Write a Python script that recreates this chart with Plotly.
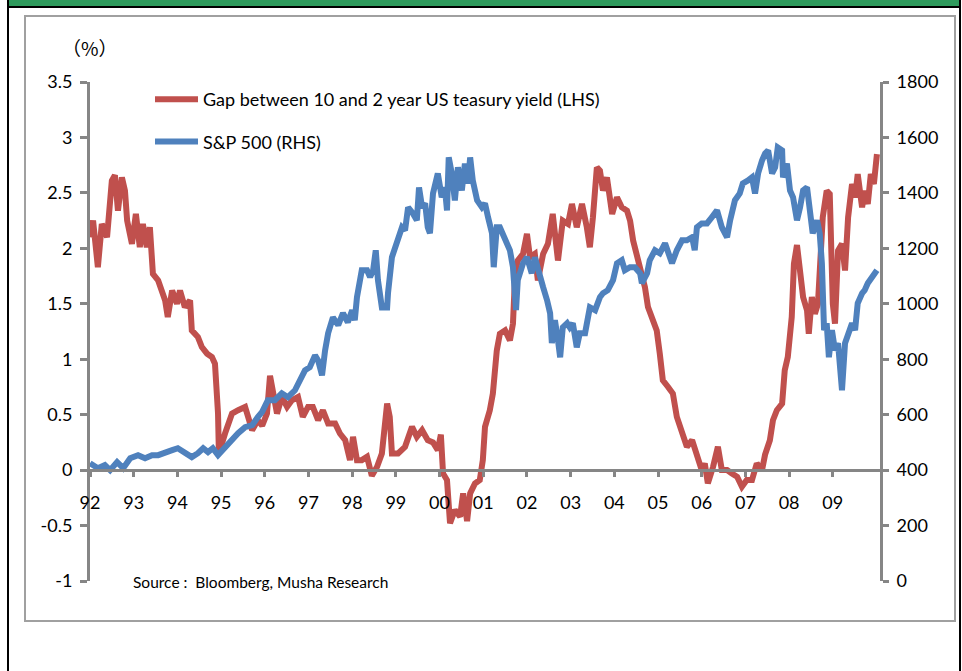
import plotly.graph_objects as go

# ---- data ----
gap_x = [1992.00, 1992.07, 1992.18, 1992.27, 1992.39, 1992.50, 1992.57, 1992.64, 1992.73, 1992.80,
         1992.85, 1992.96, 1993.05, 1993.14, 1993.21, 1993.30, 1993.37, 1993.44, 1993.56, 1993.72,
         1993.78, 1993.88, 1993.99, 1994.06, 1994.17, 1994.29, 1994.33, 1994.47, 1994.56, 1994.68,
         1994.79, 1994.86, 1994.93, 1994.95, 1995.09, 1995.25, 1995.39, 1995.55, 1995.71, 1995.84,
         1995.94, 1996.05, 1996.12, 1996.19, 1996.28, 1996.39, 1996.51, 1996.62, 1996.76, 1996.87,
         1996.99, 1997.10, 1997.22, 1997.33, 1997.45, 1997.61, 1997.72, 1997.84, 1997.95, 1998.02,
         1998.11, 1998.22, 1998.34, 1998.45, 1998.57, 1998.68, 1998.80, 1998.86, 1998.91, 1999.05,
         1999.21, 1999.37, 1999.48, 1999.60, 1999.73, 1999.85, 1999.96, 2000.03, 2000.08, 2000.17,
         2000.24, 2000.35, 2000.47, 2000.54, 2000.63, 2000.70, 2000.81, 2000.92, 2000.99, 2001.04,
         2001.15, 2001.22, 2001.31, 2001.38, 2001.50, 2001.61, 2001.68, 2001.73, 2001.79, 2001.91,
         2002.00, 2002.07, 2002.18, 2002.25, 2002.37, 2002.48, 2002.59, 2002.71, 2002.82, 2002.94,
         2003.03, 2003.14, 2003.26, 2003.37, 2003.44, 2003.51, 2003.60, 2003.67, 2003.74, 2003.83,
         2003.95, 2004.06, 2004.17, 2004.29, 2004.36, 2004.43, 2004.52, 2004.63, 2004.70, 2004.77,
         2004.86, 2004.97, 2005.04, 2005.11, 2005.23, 2005.34, 2005.43, 2005.55, 2005.66, 2005.78,
         2005.89, 2006.00, 2006.07, 2006.14, 2006.26, 2006.37, 2006.46, 2006.58, 2006.69, 2006.81,
         2006.92, 2007.03, 2007.15, 2007.26, 2007.38, 2007.45, 2007.56, 2007.63, 2007.72, 2007.84,
         2007.90, 2007.97, 2008.06, 2008.11, 2008.18, 2008.25, 2008.32, 2008.41, 2008.45, 2008.52,
         2008.59, 2008.66, 2008.77, 2008.86, 2008.93, 2009.00, 2009.05, 2009.12, 2009.21, 2009.28,
         2009.35, 2009.44, 2009.51, 2009.57, 2009.67, 2009.73, 2009.80, 2009.87, 2009.94, 2010.01]
gap_y = [2.10, 2.25, 1.83, 2.22, 2.10, 2.61, 2.66, 2.34, 2.64, 2.52,
         2.25, 2.04, 2.31, 2.01, 2.22, 2.01, 2.19, 1.77, 1.71, 1.53,
         1.38, 1.62, 1.50, 1.62, 1.47, 1.53, 1.26, 1.20, 1.11, 1.05,
         1.02, 0.96, 0.51, 0.15, 0.33, 0.51, 0.54, 0.57, 0.36, 0.45,
         0.40, 0.51, 0.85, 0.69, 0.51, 0.66, 0.57, 0.63, 0.66, 0.48,
         0.57, 0.57, 0.45, 0.54, 0.42, 0.42, 0.33, 0.27, 0.09, 0.30,
         0.09, 0.09, 0.12, -0.05, 0.03, 0.15, 0.60, 0.48, 0.15, 0.15,
         0.21, 0.39, 0.30, 0.36, 0.27, 0.25, 0.18, 0.32, -0.03, -0.09,
         -0.48, -0.36, -0.42, -0.21, -0.46, -0.21, -0.12, -0.09, 0.09, 0.39,
         0.54, 0.69, 1.08, 1.23, 1.26, 1.17, 1.32, 1.77, 1.89, 1.95,
         2.13, 1.92, 1.95, 1.71, 1.95, 2.04, 2.31, 1.89, 2.25, 2.22,
         2.40, 2.19, 2.40, 2.19, 2.01, 2.28, 2.73, 2.70, 2.52, 2.64,
         2.31, 2.46, 2.37, 2.34, 2.25, 2.07, 1.92, 1.77, 1.65, 1.47,
         1.38, 1.26, 1.05, 0.81, 0.75, 0.69, 0.48, 0.33, 0.21, 0.27,
         0.15, 0.00, 0.06, -0.12, 0.03, 0.21, 0.00, 0.00, -0.03, -0.06,
         -0.15, -0.09, -0.09, 0.06, 0.00, 0.14, 0.27, 0.45, 0.54, 0.60,
         0.90, 1.02, 1.38, 1.86, 2.03, 1.80, 1.56, 1.44, 1.23, 1.56,
         1.41, 1.50, 2.28, 2.52, 2.49, 1.50, 1.32, 1.98, 2.04, 1.80,
         2.28, 2.58, 2.46, 2.67, 2.37, 2.52, 2.40, 2.67, 2.58, 2.85]

spx_x = [1992.00, 1992.18, 1992.34, 1992.46, 1992.62, 1992.76, 1992.92, 1993.10, 1993.26, 1993.42,
         1993.56, 1993.72, 1993.88, 1994.01, 1994.17, 1994.33, 1994.47, 1994.59, 1994.70, 1994.81,
         1994.93, 1995.09, 1995.25, 1995.39, 1995.55, 1995.71, 1995.84, 1995.94, 1996.07, 1996.23,
         1996.39, 1996.53, 1996.69, 1996.81, 1996.92, 1997.03, 1997.15, 1997.22, 1997.31, 1997.38,
         1997.45, 1997.56, 1997.68, 1997.79, 1997.90, 1998.00, 1998.06, 1998.11, 1998.22, 1998.34,
         1998.41, 1998.48, 1998.54, 1998.59, 1998.68, 1998.80, 1998.82, 1998.91, 1998.98, 1999.05,
         1999.14, 1999.21, 1999.28, 1999.39, 1999.48, 1999.53, 1999.60, 1999.67, 1999.73, 1999.78,
         1999.85, 1999.96, 2000.05, 2000.12, 2000.17, 2000.21, 2000.28, 2000.35, 2000.42, 2000.51,
         2000.58, 2000.65, 2000.70, 2000.76, 2000.86, 2000.97, 2001.04, 2001.11, 2001.20, 2001.24,
         2001.31, 2001.38, 2001.45, 2001.54, 2001.61, 2001.68, 2001.75, 2001.79, 2001.91, 2002.00,
         2002.11, 2002.18, 2002.30, 2002.37, 2002.46, 2002.53, 2002.57, 2002.64, 2002.71, 2002.76,
         2002.82, 2002.92, 2002.98, 2003.05, 2003.14, 2003.21, 2003.33, 2003.44, 2003.56, 2003.67,
         2003.74, 2003.85, 2003.97, 2004.06, 2004.17, 2004.24, 2004.36, 2004.47, 2004.59, 2004.63,
         2004.75, 2004.81, 2004.93, 2005.04, 2005.16, 2005.23, 2005.32, 2005.43, 2005.55, 2005.66,
         2005.78, 2005.84, 2005.89, 2006.00, 2006.12, 2006.23, 2006.35, 2006.46, 2006.58, 2006.65,
         2006.76, 2006.87, 2006.94, 2007.06, 2007.15, 2007.22, 2007.29, 2007.38, 2007.45, 2007.52,
         2007.61, 2007.68, 2007.74, 2007.84, 2007.86, 2007.95, 2008.02, 2008.09, 2008.18, 2008.25,
         2008.32, 2008.41, 2008.48, 2008.54, 2008.64, 2008.70, 2008.75, 2008.80, 2008.86, 2008.91,
         2008.98, 2009.05, 2009.12, 2009.21, 2009.28, 2009.35, 2009.44, 2009.51, 2009.57, 2009.67,
         2009.73, 2009.80, 2009.90, 2010.01]
spx_y = [425, 407, 418, 400, 429, 407, 443, 454, 443, 454,
         454, 465, 472, 479, 461, 447, 461, 479, 465, 479,
         454, 483, 508, 533, 555, 562, 591, 610, 652, 652,
         677, 663, 688, 724, 760, 771, 814, 796, 742, 832,
         894, 951, 923, 966, 933, 977, 941, 1024, 1121, 1121,
         1096, 1121, 1193, 1085, 987, 987, 1038, 1168, 1204, 1240,
         1276, 1265, 1348, 1326, 1301, 1420, 1348, 1362, 1276, 1254,
         1398, 1470, 1384, 1420, 1337, 1528, 1470, 1373, 1492, 1409,
         1506, 1434, 1528, 1445, 1373, 1348, 1362, 1312, 1254, 1132,
         1276, 1276, 1254, 1218, 1193, 1132, 977, 1085, 1146, 1168,
         1110, 1168, 1110, 1060, 1013, 966, 858, 941, 869, 807,
         915, 930, 915, 930, 843, 894, 894, 987, 977, 1024,
         1038, 1049, 1085, 1146, 1157, 1121, 1132, 1132, 1110, 1074,
         1110, 1157, 1193, 1182, 1218, 1182, 1146, 1193, 1229, 1229,
         1240, 1193, 1276, 1290, 1290, 1312, 1337, 1276, 1240, 1301,
         1373, 1398, 1434, 1445, 1456, 1398, 1470, 1517, 1542, 1553,
         1470, 1492, 1564, 1553, 1456, 1506, 1409, 1384, 1301, 1348,
         1409, 1420, 1312, 1254, 1301, 1254, 1146, 905, 930, 807,
         905, 832, 858, 688, 858, 894, 930, 905, 1002, 1038,
         1049, 1074, 1096, 1121]

year_ticks = list(range(1992, 2010))
year_labels = ["92", "93", "94", "95", "96", "97", "98", "99", "00",
               "01", "02", "03", "04", "05", "06", "07", "08", "09"]
left_ticks = [-1, -0.5, 0, 0.5, 1, 1.5, 2, 2.5, 3, 3.5]
left_labels = ["-1", "-0.5", "0", "0.5", "1", "1.5", "2", "2.5", "3", "3.5"]
right_ticks = [0, 200, 400, 600, 800, 1000, 1200, 1400, 1600, 1800]
right_labels = ["0", "200", "400", "600", "800", "1000", "1200", "1400", "1600", "1800"]

RED = "#C0504D"
BLUE = "#4F81BD"
AX = "#868686"
FONT = "Lato"

fig = go.Figure()
fig.add_trace(go.Scatter(x=gap_x, y=gap_y, mode="lines", yaxis="y",
                         name="Gap between 10 and 2 year US teasury yield (LHS)",
                         legendgroup="a",
                         line=dict(color=RED, width=6)))
fig.add_trace(go.Scatter(x=spx_x, y=spx_y, mode="lines", yaxis="y2",
                         name="S&P 500 (RHS)", legendgroup="b",
                         line=dict(color=BLUE, width=6)))

L, R, T, B = 90, 82, 82, 90
W, H = 962, 671
pw, ph = W - L - R, H - T - B
def px(x):
    return (x - L) / pw
def py(y):
    return (H - B - y) / ph

zero_pos = (0 - (-1)) / (3.5 - (-1))

fig.update_layout(
    width=W, height=H,
    margin=dict(l=L, r=R, t=T, b=B, autoexpand=False),
    paper_bgcolor="white", plot_bgcolor="white",
    font=dict(family=FONT, size=18, color="black"),
    xaxis=dict(range=[1992, 2010.08], anchor="free", position=zero_pos,
               tickvals=year_ticks, ticktext=year_labels,
               showline=True, linecolor=AX, linewidth=3,
               ticks="outside", ticklen=5, tickwidth=3, tickcolor=AX,
               showgrid=False, zeroline=False, ticklabelstandoff=10,
               tickfont=dict(family=FONT, size=18, color="black")),
    yaxis=dict(range=[-1, 3.5], tickvals=left_ticks, ticktext=left_labels,
               showline=True, linecolor=AX, linewidth=3,
               ticks="outside", ticklen=7, tickwidth=3, tickcolor=AX,
               showgrid=False, zeroline=False, ticklabelstandoff=4,
               tickfont=dict(family=FONT, size=18, color="black")),
    yaxis2=dict(range=[0, 1800], overlaying="y", side="right", anchor="x",
                tickvals=right_ticks, ticktext=right_labels,
                showline=True, linecolor=AX, linewidth=3,
                ticks="outside", ticklen=6, tickwidth=3, tickcolor=AX,
                showgrid=False, zeroline=False, ticklabelstandoff=4,
                tickfont=dict(family=FONT, size=18, color="black")),
    legend=dict(x=px(150), y=py(81), xanchor="left", yanchor="top",
                bgcolor="rgba(0,0,0,0)", borderwidth=0,
                font=dict(family=FONT, size=18, color="black"),
                tracegroupgap=16, itemwidth=43, traceorder="grouped"),
    showlegend=True,
)

fig.add_annotation(text="Source :  Bloomberg, Musha Research", xref="paper", yref="paper",
                   x=px(131), y=py(582), xanchor="left", yanchor="middle",
                   showarrow=False, font=dict(family=FONT, size=15.5, color="black"))
fig.add_annotation(text="（%）", xref="paper", yref="paper",
                   x=px(60), y=py(47), xanchor="left", yanchor="middle",
                   showarrow=False, font=dict(family="Noto Sans CJK JP", size=19, color="black"))

# frame decorations
fig.add_shape(type="rect", xref="paper", yref="paper", x0=px(25), x1=px(955), y0=py(621), y1=py(16),
              line=dict(color="#A0A0A0", width=2), fillcolor="rgba(0,0,0,0)", layer="below")
fig.add_shape(type="rect", xref="paper", yref="paper", x0=px(8), x1=px(961), y0=py(7), y1=py(-2),
              line=dict(width=0), fillcolor="#2E9A5C", layer="below")
fig.add_shape(type="line", xref="paper", yref="paper", x0=px(8), x1=px(961), y0=py(7), y1=py(7),
              line=dict(color="black", width=2))
fig.add_shape(type="line", xref="paper", yref="paper", x0=px(8), x1=px(8), y0=py(672), y1=py(-2),
              line=dict(color="black", width=2))
fig.add_shape(type="line", xref="paper", yref="paper", x0=px(960), x1=px(960), y0=py(672), y1=py(-2),
              line=dict(color="black", width=2))

fig.write_html("out.html", config={"displayModeBar": False},
               post_script="document.body.style.margin='0';document.body.style.overflow='hidden';")
